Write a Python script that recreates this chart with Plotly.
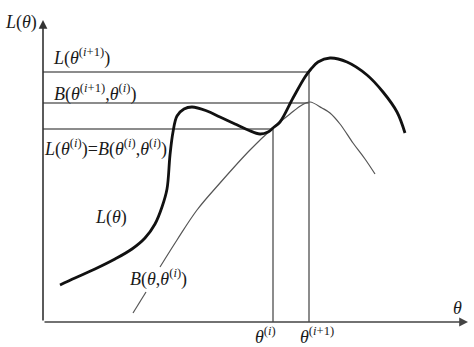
import plotly.graph_objects as go

# Thick curve L(theta)
L_theta = [1.7, 3.2, 5.2, 7.2, 8.9, 10.2, 11.2, 11.9, 12.4, 12.7, 13.0, 13.4, 14.1, 14.9, 16.4,
           17.7, 19.2, 20.5, 21.7, 22.5, 23.0, 23.7, 25.0, 26.2, 26.8, 27.5, 28.7, 30.4, 32.4,
           34.0, 35.4, 36.2]
L_vals = [3.7, 4.4, 5.3, 6.3, 7.3, 8.4, 9.8, 11.5, 13.3, 16.7, 19.0, 20.6, 21.3, 21.5, 21.1,
          20.5, 19.8, 19.2, 18.8, 19.0, 19.4, 20.0, 22.4, 24.5, 25.3, 26.0, 26.4, 26.0, 24.7,
          23.0, 21.0, 18.9]

# Thin curve B(theta, theta_i) (gap where its label sits)
B_theta = [9.0, 10.3, None, 11.7, 13.4, 15.4, 17.7, 20.7, 23.0, 24.7, 25.9, 26.7,
           27.9, 28.7, 29.7, 31.0, 32.2, 33.2]
B_vals = [0.9, 3.0, None, 5.5, 8.2, 11.2, 13.9, 17.2, 19.4, 20.8, 21.7, 22.0,
          21.4, 20.9, 19.8, 17.9, 16.3, 14.8]

theta_i = 23.0
theta_i1 = 26.6
L_i = 19.3
B_i1 = 21.9
L_i1 = 25.0

FONT = "Liberation Serif"
GRAY = "#666666"

fig = go.Figure()
fig.add_trace(go.Scatter(x=B_theta, y=B_vals, mode="lines",
                         line=dict(color="#555555", width=1.2, shape="spline", smoothing=1.0),
                         connectgaps=False, hoverinfo="skip"))
fig.add_trace(go.Scatter(x=L_theta, y=L_vals, mode="lines",
                         line=dict(color="#111111", width=2.8, shape="spline", smoothing=1.0),
                         hoverinfo="skip"))

# guide lines
for (x0, y0, x1, y1) in [(0, L_i1, theta_i1, L_i1), (0, B_i1, theta_i1, B_i1), (0, L_i, theta_i, L_i),
                         (theta_i, 0, theta_i, L_i), (theta_i1, 0, theta_i1, L_i1)]:
    fig.add_shape(type="line", x0=x0, y0=y0, x1=x1, y1=y1, line=dict(color=GRAY, width=1.5), layer="below")

# axes with arrows
fig.add_annotation(x=0, y=30.2, ax=0, ay=0, xref="x", yref="y", axref="x", ayref="y",
                   showarrow=True, arrowhead=2, arrowsize=1.1, arrowwidth=1.6, arrowcolor="#333333", text="")
fig.add_annotation(x=42.5, y=0, ax=0, ay=0, xref="x", yref="y", axref="x", ayref="y",
                   showarrow=True, arrowhead=2, arrowsize=1.1, arrowwidth=1.6, arrowcolor="#444444", text="")

labels = [
    (-2.2, 30.0, "<i>L</i>(<i>θ</i>)"),
    (3.8, 26.5, "<i>L</i>(<i>θ</i><sup>(<i>i</i>+1)</sup>)"),
    (5.2, 22.9, "<i>B</i>(<i>θ</i><sup>(<i>i</i>+1)</sup>,<i>θ</i><sup>(<i>i</i>)</sup>)"),
    (6.2, 17.4, "<i>L</i>(<i>θ</i><sup>(<i>i</i>)</sup>)=<i>B</i>(<i>θ</i><sup>(<i>i</i>)</sup>,<i>θ</i><sup>(<i>i</i>)</sup>)"),
    (6.8, 10.5, "<i>L</i>(<i>θ</i>)"),
    (11.5, 4.4, "<i>B</i>(<i>θ</i>,<i>θ</i><sup>(<i>i</i>)</sup>)"),
    (22.2, -1.3, "<i>θ</i><sup>(<i>i</i>)</sup>"),
    (27.4, -1.3, "<i>θ</i><sup>(<i>i</i>+1)</sup>"),
    (41.4, 1.4, "<i>θ</i>"),
]
for x, y, t in labels:
    fig.add_annotation(x=x, y=y, text=t, showarrow=False, xref="x", yref="y",
                       font=dict(family=FONT, size=18, color="#1a1a1a"))

fig.update_layout(
    width=474, height=347, autosize=False,
    margin=dict(l=0, r=0, t=0, b=0),
    paper_bgcolor="white", plot_bgcolor="white",
    showlegend=False,
    xaxis=dict(range=[-4.3, 43.1], visible=False, fixedrange=True),
    yaxis=dict(range=[-2.5, 32.2], visible=False, fixedrange=True),
)
fig.write_html("out.html")
